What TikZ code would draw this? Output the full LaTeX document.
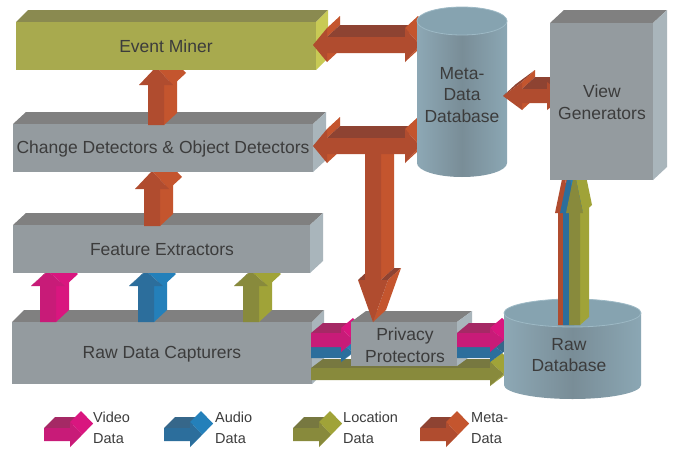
\documentclass[tikz,border=0pt]{standalone}
\usepackage{fontspec}
\setmainfont{Liberation Sans}
\definecolor{pinkF}{HTML}{C81B78}\definecolor{pinkT}{HTML}{A52965}\definecolor{pinkR}{HTML}{D9167F}
\definecolor{blueF}{HTML}{2C6E9C}\definecolor{blueT}{HTML}{36678A}\definecolor{blueR}{HTML}{2480BA}
\definecolor{oliveF}{HTML}{888A3C}\definecolor{oliveT}{HTML}{777840}\definecolor{oliveR}{HTML}{A0A338}
\definecolor{orF}{HTML}{B04C2F}\definecolor{orT}{HTML}{8E4332}\definecolor{orR}{HTML}{C4552E}
\definecolor{grayF}{HTML}{949B9F}\definecolor{grayT}{HTML}{808080}\definecolor{grayR}{HTML}{A9B5BB}
\definecolor{evF}{HTML}{A8AA4E}\definecolor{evT}{HTML}{8A8A50}\definecolor{evR}{HTML}{C8CA55}
\definecolor{cylL}{HTML}{8DA8B5}\definecolor{cylM}{HTML}{798D97}\definecolor{cylR}{HTML}{8BA7B4}
\definecolor{cylTop}{HTML}{86A3B0}\definecolor{cylRim}{HTML}{9DB9C5}
\definecolor{txt}{HTML}{3C3C3C}
% extruded polygon: prefix, ex, ey, x0, y0, list of remaining points (closing at x0/y0)
\newcommand\solid[6]{%
  \foreach \x/\y [remember=\x as \px (initially #4), remember=\y as \py (initially #5)] in {#6}{%
    \pgfmathsetmacro\ddx{\x-\px}%
    \pgfmathsetmacro\ddy{\y-\py}%
    \pgfmathsetmacro\vis{(#2)*(\ddy)-(#3)*(\ddx)}%
    \ifdim\vis pt>0.5pt
      \pgfmathtruncatemacro\istop{\ddx>1.3*(\ddy)}%
      \ifnum\istop=1 \def\fc{#1T}\else\def\fc{#1R}\fi
      \fill[fill=\fc] (\px,\py) -- (\x,\y) -- ({\x+(#2)},{\y+(#3)}) -- ({\px+(#2)},{\py+(#3)}) -- cycle;
    \fi
  }%
  \fill[fill=#1F] (#4,#5) \foreach \x/\y in {#6}{ -- (\x,\y)} -- cycle;
}
\def\exX{13}\def\exY{-12}
% up arrow: color, L, w, o, yb, yh, ya
\newcommand\arrUp[7]{%
  \pgfmathsetmacro\aA{#2}\pgfmathsetmacro\aB{#2+#3}\pgfmathsetmacro\aC{#2-#4}%
  \pgfmathsetmacro\aD{#2+#3+#4}\pgfmathsetmacro\aM{#2+#3/2}%
  \edef\tmplist{\aA/#6,\aC/#6,\aM/#7,\aD/#6,\aB/#6,\aB/#5,\aA/#5}%
  \edef\tmpcall{\noexpand\solid{#1}{\exX}{\exY}{\aA}{#5}{\tmplist}}\tmpcall}
% down arrow: color, L, w, o, yt, yh, ya
\newcommand\arrDown[7]{%
  \pgfmathsetmacro\aA{#2}\pgfmathsetmacro\aB{#2+#3}\pgfmathsetmacro\aC{#2-#4}%
  \pgfmathsetmacro\aD{#2+#3+#4}\pgfmathsetmacro\aM{#2+#3/2}%
  \edef\tmplist{\aB/#5,\aB/#6,\aD/#6,\aM/#7,\aC/#6,\aA/#6,\aA/#5}%
  \edef\tmpcall{\noexpand\solid{#1}{\exX}{\exY}{\aA}{#5}{\tmplist}}\tmpcall}
% double horizontal arrow: color, xt1, xh1, xh2, xt2, yt, w, o
\newcommand\arrDbl[8]{%
  \pgfmathsetmacro\aT{#6-#8}\pgfmathsetmacro\aB{#6+#7}\pgfmathsetmacro\aBo{#6+#7+#8}%
  \pgfmathsetmacro\aC{#6+#7/2}%
  \edef\tmplist{#3/\aT,#3/#6,#4/#6,#4/\aT,#5/\aC,#4/\aBo,#4/\aB,#3/\aB,#3/\aBo,#2/\aC}%
  \edef\tmpcall{\noexpand\solid{#1}{\exX}{\exY}{#2}{\aC}{\tmplist}}\tmpcall}
% right arrow: color, x0, xh, xt, yt, w, o
\newcommand\arrRight[7]{%
  \pgfmathsetmacro\aT{#5-#7}\pgfmathsetmacro\aB{#5+#6}\pgfmathsetmacro\aBo{#5+#6+#7}%
  \pgfmathsetmacro\aC{#5+#6/2}%
  \edef\tmplist{#3/#5,#3/\aT,#4/\aC,#3/\aBo,#3/\aB,#2/\aB,#2/#5}%
  \edef\tmpcall{\noexpand\solid{#1}{\exX}{\exY}{#2}{#5}{\tmplist}}\tmpcall}
% cuboid: prefix, x1, y1, x2, y2, dx, dy
\newcommand\cuboid[7]{%
  \fill[fill=#1T] (#2,#3) -- (#4,#3) -- ({#4+#6},{#3-#7}) -- ({#2+#6},{#3-#7}) -- cycle;
  \fill[fill=#1R] (#4,#3) -- ({#4+#6},{#3-#7}) -- ({#4+#6},{#5-#7}) -- (#4,#5) -- cycle;
  \fill[fill=#1F] (#2,#3) rectangle (#4,#5);}
% cylinder: cx, rx, ytop, ybot, ry
\newcommand\cyl[5]{%
  \shade[left color=cylL, right color=cylR, middle color=cylM] ({#1-#2},#3) -- ({#1-#2},#4)
    arc[start angle=180, end angle=360, x radius=#2pt, y radius=#5pt] -- ({#1+#2},#3) -- cycle;
  \fill[cylTop, draw=cylRim, line width=0.8pt] (#1,#3) ellipse[x radius=#2pt, y radius=#5pt];}
\tikzset{
  lbl/.style={text=txt, font=\fontsize{17.5}{21.5}\selectfont, align=center, inner sep=0pt},
  leg/.style={text=txt, font=\fontsize{14.5}{21}\selectfont, align=left, anchor=west, inner sep=0pt}
}
\begin{document}
\begin{tikzpicture}[x=1pt,y=-1pt]
\fill[white] (0,0) rectangle (678,450);
\useasboundingbox (0,0) rectangle (678,450);
% bottom stack
\cuboid{gray}{12}{322}{312}{384}{12}{12}
\arrUp{pink}{40}{16}{9}{322}{286}{271}
\arrUp{blue}{138}{16}{9}{322}{286}{271}
\arrUp{olive}{243}{16}{9}{322}{286}{271}
\cuboid{gray}{13}{225}{310}{273}{13}{12}
\arrUp{or}{144}{16}{9}{226}{189}{171}
\cuboid{gray}{13}{124}{313}{172}{13}{12}
\arrUp{or}{148}{16}{9}{125}{85}{67}
\cuboid{ev}{16}{22}{316}{70}{12}{12}
% data arrows into privacy protectors
\def\exX{12}\def\exY{-9}
\arrRight{olive}{311}{490}{504}{368}{12}{6}
\arrRight{blue}{311}{341}{353}{347}{11}{4}
\def\exY{-10}
\arrRight{pink}{311}{341}{353}{333}{14}{5}
\cuboid{gray}{351}{322}{457}{366}{15}{11}
% meta data arrows
\def\exX{13}\def\exY{-12}
\arrDown{or}{365}{16}{7}{150}{280}{322}
\arrDbl{or}{313}{327}{405}{420}{138}{16}{9}
\arrDbl{or}{313}{327}{405}{420}{37}{16}{9}
\cyl{462}{45}{21}{163}{14}
% privacy -> raw database
\def\exX{12}\def\exY{-9}
\arrRight{blue}{457}{490}{503}{347}{11}{4}
\def\exY{-10}
\arrRight{pink}{457}{490}{503}{333}{14}{5}
\cyl{572.5}{68.5}{313}{385}{14}
% raw database -> view generators
\def\exX{9}\def\exY{-8}
\arrUp{or}{558}{11}{3}{325}{213}{172}
\arrUp{blue}{563}{11}{3}{325}{213}{172}
\arrUp{olive}{569}{11}{3}{325}{213}{172}
% view generators <-> meta db
\def\exX{13}\def\exY{-12}
\arrDbl{or}{503}{522}{547}{566}{89}{14}{7}
\cuboid{gray}{550}{23}{653}{180}{14}{13}
% labels
\node[lbl] (em) at (166,46) {Event Miner};
\node[lbl] (cd) at (163,149) {Change Detectors \& Object Detectors};
\node[lbl] (fe) at (162,250) {Feature Extractors};
\node[lbl] (rc) at (162,354) {Raw Data Capturers};
\node[lbl] (pp) at (405,345) {Privacy\\Protectors};
\node[lbl] (md) at (462,95) {Meta-\\Data\\Database};
\node[lbl] (vg) at (602,102) {View\\Generators};
\node[lbl] (rd) at (569,355) {Raw\\Database};
% legend
\def\exX{11}\def\exY{-11}
\arrRight{pink}{44}{70}{82}{428}{13}{6}
\arrRight{blue}{164}{190}{202}{428}{13}{6}
\arrRight{olive}{293}{319}{331}{428}{13}{6}
\arrRight{or}{420}{446}{458}{428}{13}{6}
\node[leg] (lv) at (93,428) {Video\\Data};
\node[leg] (la) at (215,428) {Audio\\Data};
\node[leg] (ll) at (343,428) {Location\\Data};
\node[leg] (lm) at (471,428) {Meta-\\Data};
\end{tikzpicture}
\end{document}
